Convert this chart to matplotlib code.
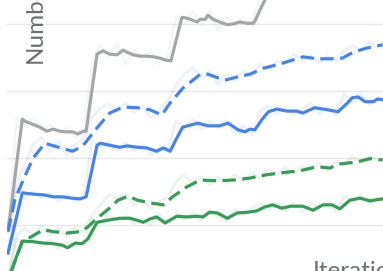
import matplotlib
matplotlib.use('Agg')
import matplotlib.pyplot as plt

# smoothed series (x = iteration, y = count)
gray_x = [0, 0.2, 1.7, 2.0, 3.0, 3.8, 4.6, 5.4, 6.2, 7.0, 7.7, 8.3, 9.0, 9.3, 10.6, 11.3, 12.1, 13.0,
          13.7, 14.3, 14.9, 15.7, 16.5, 17.3, 18.1, 18.8, 19.4, 20.7, 21.2, 21.9, 22.5, 22.9, 23.5,
          23.8, 24.4, 25.2, 26.1, 26.8, 27.6, 28.5, 29.2, 29.5, 30.0, 30.7, 31.4, 32.4, 44.6]
gray_y = [9.4, 11.0, 25.8, 25.5, 25.0, 24.6, 24.0, 24.3, 24.0, 23.9, 23.9, 23.6, 24.0, 24.0, 35.5, 36.0,
          35.5, 35.4, 36.1, 35.7, 35.4, 35.2, 35.2, 35.1, 34.9, 34.6, 34.5, 41.0, 40.9, 40.6, 40.3,
          40.7, 40.7, 41.3, 40.7, 40.3, 39.9, 40.0, 40.3, 40.1, 40.1, 40.7, 42.1, 43.9, 45.8, 46.6, 46.6]

blue_x = [0, 1.7, 3.0, 4.2, 5.4, 6.5, 7.6, 8.6, 9.3, 10.6, 11.0, 12.1, 13.3, 14.2, 15.4, 16.5, 17.7,
          18.5, 19.3, 20.1, 20.8, 21.7, 22.6, 23.8, 25.2, 26.2, 27.4, 28.2, 28.8, 29.4, 30.2, 31.0,
          32.0, 33.2, 34.4, 35.1, 36.5, 38.0, 39.3, 40.4, 41.0, 41.7, 42.5, 43.5, 44.0, 44.6]
blue_y = [5.8, 14.8, 14.6, 14.5, 14.2, 14.2, 14.0, 13.9, 14.2, 21.9, 22.2, 21.9, 21.6, 21.8, 21.6, 21.5,
          21.0, 21.5, 21.0, 23.0, 24.6, 24.9, 25.2, 24.8, 24.8, 25.2, 24.2, 23.9, 24.3, 24.2, 25.7,
          26.9, 27.3, 27.0, 27.0, 26.7, 27.5, 27.2, 26.9, 28.2, 29.0, 29.1, 28.4, 28.4, 28.8, 28.7]

blue_dash_x = [0, 0.8, 1.8, 3.0, 4.4, 6.0, 7.7, 8.9, 10.6, 12.1, 13.7, 15.4, 16.9, 18.3, 19.3, 20.8,
               22.9, 23.8, 25.8, 27.3, 28.8, 30.4, 32.0, 33.6, 35.1, 36.8, 38.3, 39.8, 41.1, 42.7, 44.6]
blue_dash_y = [9.0, 13.7, 16.7, 20.0, 22.2, 21.6, 21.0, 21.8, 24.5, 26.7, 27.6, 27.5, 27.2, 26.4, 28.2,
               30.4, 32.5, 32.5, 31.6, 32.1, 32.5, 33.4, 33.9, 34.5, 35.1, 34.8, 34.8, 34.9, 35.8,
               36.4, 36.9]

green_x = [0, 1.7, 3.0, 4.2, 5.4, 6.4, 7.1, 8.0, 8.8, 9.5, 10.6, 11.8, 13.3, 14.5, 15.4, 16.1, 16.9,
           17.7, 18.7, 20.1, 21.3, 22.5, 23.2, 24.0, 24.9, 26.1, 27.3, 28.5, 29.6, 30.6, 31.5, 32.6,
           33.6, 35.1, 36.3, 37.5, 38.6, 39.5, 40.7, 41.9, 43.1, 44.6]
green_y = [1.8, 7.6, 7.5, 7.3, 7.2, 7.0, 6.6, 7.3, 7.2, 7.9, 10.4, 10.7, 11.0, 11.0, 10.7, 10.4, 10.9,
           11.2, 10.3, 11.3, 11.2, 11.3, 11.2, 11.9, 11.8, 11.0, 11.8, 11.9, 12.1, 12.7, 13.0, 12.5,
           12.8, 12.8, 12.2, 13.0, 13.0, 12.4, 13.7, 14.0, 13.6, 13.9]

green_dash_x = [0, 1.7, 3.0, 4.2, 5.4, 7.0, 8.6, 9.5, 10.6, 11.8, 13.1, 14.3, 15.4, 16.9, 18.5, 19.6,
                21.3, 22.9, 24.9, 26.8, 28.8, 30.8, 32.7, 34.8, 36.8, 38.3, 39.5, 41.5, 43.1, 44.6]
green_dash_y = [1.8, 7.5, 8.4, 9.3, 9.0, 8.8, 9.0, 9.7, 11.0, 12.2, 13.7, 14.3, 13.7, 13.3, 13.0, 14.2,
                15.7, 16.7, 16.6, 16.7, 17.0, 17.5, 17.8, 18.1, 18.7, 18.5, 19.1, 19.4, 19.9, 19.7]

# raw (unsmoothed) values, one per iteration, drawn faintly behind
raw_x = list(range(45))
gray_raw = [9, 26, 25, 26, 24, 25, 23.5, 24.5, 23, 24, 34, 37, 35, 37, 34, 36, 35, 36, 34, 35,
            41, 40, 42, 40, 42, 39, 41, 40, 41, 40, 44, 47, 46, 47, 46, 47, 46, 47, 46, 47,
            46, 47, 46, 47, 46]
blue_raw = [6, 15.5, 14, 15, 14, 14.8, 13.5, 14.5, 13.5, 14, 22.5, 21.5, 22.5, 21, 22.3, 21, 22, 20.5,
            21.5, 21, 25.5, 24.5, 25.8, 24.3, 25.5, 24.5, 25.5, 23.5, 24.8, 23.5, 27, 27.8, 26.5, 27.6,
            26.4, 27.2, 28.2, 26.6, 27.5, 26.3, 29.5, 28.5, 29.6, 28, 29]
blue_dash_raw = [9, 16, 19, 22, 23, 21, 22.5, 20.5, 22, 23, 26, 27.5, 28, 27, 28.2, 26.8, 27.8, 26, 27,
                 28.5, 31, 32.5, 33.5, 32, 33, 31, 32.5, 31.5, 33, 32.2, 34, 33.2, 34.5, 34, 35.5,
                 34.5, 35.3, 34.2, 35.2, 34.5, 36, 36.8, 36, 37.3, 36.5]
green_raw = [2, 8, 7, 8, 6.8, 7.8, 6.5, 7.5, 6.8, 7.5, 11, 10.3, 11.5, 10.5, 11.3, 10.2, 11, 10, 11.6,
             10.3, 11.8, 10.8, 11.8, 10.6, 12.3, 11.2, 10.5, 12.3, 11.5, 12.5, 13.3, 12.2, 13.2, 12,
             13.3, 12, 13.3, 12.5, 13.5, 12, 14.3, 13.5, 14.5, 13.2, 14.2]
green_dash_raw = [2, 8.5, 9.5, 8.5, 9.8, 8.5, 9.5, 8.3, 9.6, 9, 11.5, 13, 14.5, 14, 14.8, 13, 13.8, 12.5,
                  13.5, 14.2, 16.5, 17.5, 16.2, 17.2, 16, 17.2, 16.2, 17.5, 16.6, 17.8, 17, 18.3, 17.5,
                  18.6, 17.6, 18.8, 18.2, 19.2, 18, 19.5, 19, 20.2, 19.3, 20.3, 19.5]

grid_vals = [10, 20, 30, 40]

GRAY = '#a4a7a9'
BLUE = '#4a84e0'
GREEN = '#3b9a5a'

fig = plt.figure(figsize=(3.83, 2.71), dpi=100)
ax = fig.add_axes([7 / 383, 0, 376 / 383, 1])

for v in grid_vals:
    ax.axhline(v, color='#e8e8e8', lw=1.0, zorder=0)

# faint raw traces
for raw, c in [(gray_raw, GRAY), (blue_raw, BLUE), (blue_dash_raw, BLUE),
               (green_raw, GREEN), (green_dash_raw, GREEN)]:
    ax.plot(raw_x, raw, color=c, lw=2.2, alpha=0.1, zorder=1)

lw = 2.3
ax.plot(gray_x, gray_y, color=GRAY, lw=lw, zorder=2)
ax.plot(blue_dash_x, blue_dash_y, color=BLUE, lw=lw, dashes=(4.2, 2.0), zorder=2)
ax.plot(blue_x, blue_y, color=BLUE, lw=lw, zorder=2)
ax.plot(green_dash_x, green_dash_y, color=GREEN, lw=lw, dashes=(4.2, 2.0), zorder=2)
ax.plot(green_x, green_y, color=GREEN, lw=lw, zorder=2)

ax.set_xlim(-0.12, 44.64)
ax.set_ylim(3.13, 43.58)
ax.axis('off')

fig.text(35 / 383, 1 - 63 / 271, 'Number', rotation=90, ha='center', va='bottom',
         fontsize=17.5, color='#6b6e72', family=['Lato', 'DejaVu Sans'])
fig.text(313 / 383, 1 - 261 / 271, 'Iteration', ha='left', va='top',
         fontsize=17.5, color='#6b6e72', family=['Lato', 'DejaVu Sans'])

fig.savefig('out.png', dpi=100)
